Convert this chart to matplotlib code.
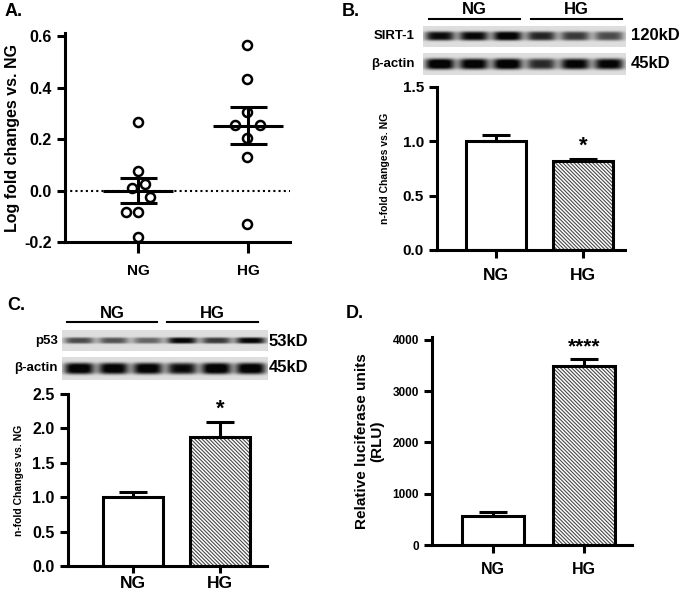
import numpy as np
import matplotlib
matplotlib.use("Agg")
import matplotlib.pyplot as plt

plt.rcParams["font.family"] = ["Liberation Sans", "DejaVu Sans"]
plt.rcParams["font.weight"] = "bold"
plt.rcParams["axes.labelweight"] = "bold"
plt.rcParams["hatch.linewidth"] = 0.8

# ── data ────────────────────────────────────────────────────────────────────
groups = ["NG", "HG"]

# A: log fold change, individual points (value, x-offset)
a_ng_vals = [0.265, 0.075, 0.01, 0.025, -0.025, -0.085, -0.085, -0.18]
a_ng_offs = [0.0, 0.0, -0.06, 0.06, 0.11, -0.11, 0.0, 0.0]
a_hg_vals = [0.565, 0.435, 0.305, 0.255, 0.255, 0.205, 0.13, -0.13]
a_hg_offs = [-0.01, -0.01, -0.01, -0.12, 0.11, -0.01, -0.01, -0.01]

# B: SIRT-1 western blot quantification
b_mean = [1.00, 0.82]
b_sem = [0.06, 0.02]
b_sirt1_bands = [0.80, 0.82, 0.88, 0.70, 0.62, 0.55]
b_actin_bands = [0.92, 0.88, 0.92, 0.68, 0.85, 0.85]

# C: p53 western blot quantification
c_mean = [1.00, 1.87]
c_sem = [0.07, 0.22]
c_p53_bands = [0.55, 0.52, 0.45, 0.82, 0.62, 0.82]
c_actin_bands = [0.90, 0.88, 0.88, 0.80, 0.92, 0.90]

# D: luciferase reporter
d_mean = [570, 3500]
d_sem = [80, 130]

W, H = 685, 593
fig = plt.figure(figsize=(W / 100, H / 100), dpi=100)


def px_axes(x0, y0, x1, y1):
    """axes from pixel box (top-left origin)"""
    return fig.add_axes([x0 / W, 1 - y1 / H, (x1 - x0) / W, (y1 - y0) / H])


def px_text(x, y, s, **kw):
    fig.text(x / W, 1 - y / H, s, **kw)


def px_line(x0, x1, y):
    fig.lines.append(plt.Line2D([x0 / W, x1 / W], [1 - y / H] * 2, color="black",
                                lw=1.5, transform=fig.transFigure))


def style_axes(ax, lw=2.2):
    for s in ("top", "right"):
        ax.spines[s].set_visible(False)
    for s in ("left", "bottom"):
        ax.spines[s].set_linewidth(lw)
    ax.tick_params(width=lw, length=6, direction="out")


def draw_bars(ax, means, sems, width, capsize=10):
    x = np.arange(len(means))
    ax.bar(x[1], means[1], width, color="white", edgecolor="#4a4a4a",
           hatch="\\" * 9, linewidth=0, zorder=2)
    ax.bar(x, means, width, fill=False, edgecolor="black", linewidth=2.2, zorder=3)
    ax.errorbar(x, means, yerr=[[0, 0], sems], fmt="none", ecolor="black",
                elinewidth=2.2, capsize=capsize, capthick=2.2, zorder=1)


def draw_blot(ax, levels, thick):
    nx, ny = 600, 60
    xs = np.linspace(0, len(levels), nx)
    ys = np.linspace(-1, 1, ny)
    img = np.full((ny, nx), 0.87)
    for i, lv in enumerate(levels):
        px = np.exp(-((xs - (i + 0.5)) / 0.44) ** 4)
        py = np.exp(-(ys / thick) ** 4)
        img -= 1.05 * lv * np.outer(py, px)
    img = np.clip(img, 0.02, 1)
    ax.imshow(img, cmap="gray", vmin=0, vmax=1, aspect="auto",
              interpolation="bilinear")
    ax.set_axis_off()


# ── A ───────────────────────────────────────────────────────────────────────
axA = px_axes(65, 33, 290, 242)
style_axes(axA)
axA.axhline(0, color="black", ls=(0, (1, 1.5)), lw=1.5, zorder=0)
for gi, (vals, offs) in enumerate([(a_ng_vals, a_ng_offs), (a_hg_vals, a_hg_offs)]):
    v = np.array(vals)
    axA.plot(gi + np.array(offs), v, "o", ms=6.5, mfc="white", mec="black",
             mew=1.8, zorder=3)
    m = v.mean()
    sem = v.std(ddof=1) / np.sqrt(len(v))
    axA.hlines(m, gi - 0.32, gi + 0.32, color="black", lw=2.2, zorder=4)
    axA.hlines([m - sem, m + sem], gi - 0.17, gi + 0.17, color="black", lw=2.2, zorder=4)
    axA.vlines(gi, m - sem, m + sem, color="black", lw=2.2, zorder=4)
axA.set_xlim(-0.667, 1.38)
axA.set_ylim(-0.2, 0.612)
axA.set_yticks([-0.2, 0.0, 0.2, 0.4, 0.6])
axA.set_yticklabels(["-0.2", "0.0", "0.2", "0.4", "0.6"], fontsize=11.5)
axA.set_xticks([0, 1])
axA.set_xticklabels(groups, fontsize=11)
axA.tick_params(axis="x", length=8, pad=8)
axA.set_ylabel("Log fold changes vs. NG", fontsize=11.5, labelpad=3)

# ── B ───────────────────────────────────────────────────────────────────────
axB = px_axes(437, 87, 625, 250)
style_axes(axB)
draw_bars(axB, b_mean, b_sem, 0.69)
axB.text(1, 0.86, "*", ha="center", va="bottom", fontsize=16)
axB.set_xlim(-0.68, 1.48)
axB.set_ylim(0, 1.5)
axB.set_yticks([0, 0.5, 1.0, 1.5])
axB.set_yticklabels(["0.0", "0.5", "1.0", "1.5"], fontsize=11)
axB.set_xticks([0, 1])
axB.set_xticklabels(groups, fontsize=12.5)
axB.tick_params(axis="x", pad=7)
axB.set_ylabel("n-fold Changes vs. NG", fontsize=7.5, labelpad=9)

draw_blot(px_axes(423, 26, 625, 47), b_sirt1_bands, 0.42)
draw_blot(px_axes(423, 53, 625, 75), b_actin_bands, 0.5)
px_line(429, 520, 19)
px_line(531, 622, 19)
px_text(474, 10, "NG", ha="center", va="center", fontsize=12)
px_text(576, 10, "HG", ha="center", va="center", fontsize=12)
px_text(415, 36, "SIRT-1", ha="right", va="center", fontsize=9.5)
px_text(415, 64, "β-actin", ha="right", va="center", fontsize=9.5)
px_text(631, 36, "120kD", ha="left", va="center", fontsize=12)
px_text(631, 64, "45kD", ha="left", va="center", fontsize=12)

# ── C ───────────────────────────────────────────────────────────────────────
axC = px_axes(68, 394, 267, 566)
style_axes(axC)
draw_bars(axC, c_mean, c_sem, 0.69)
axC.text(1, 2.12, "*", ha="center", va="bottom", fontsize=16)
axC.set_xlim(-0.75, 1.54)
axC.set_ylim(0, 2.5)
axC.set_yticks([0, 0.5, 1.0, 1.5, 2.0, 2.5])
axC.set_yticklabels(["0.0", "0.5", "1.0", "1.5", "2.0", "2.5"], fontsize=11.5)
axC.set_xticks([0, 1])
axC.set_xticklabels(groups, fontsize=12.5)
axC.tick_params(axis="x", length=5, pad=2)
axC.set_ylabel("n-fold Changes vs. NG", fontsize=7.5, labelpad=6)

draw_blot(px_axes(62, 330, 267, 351), c_p53_bands, 0.3)
draw_blot(px_axes(62, 357, 267, 380), c_actin_bands, 0.5)
px_line(67, 157, 322)
px_line(167, 258, 322)
px_text(112, 313, "NG", ha="center", va="center", fontsize=12)
px_text(212, 313, "HG", ha="center", va="center", fontsize=12)
px_text(58, 341, "p53", ha="right", va="center", fontsize=9.5)
px_text(58, 368, "β-actin", ha="right", va="center", fontsize=9.5)
px_text(269, 341, "53kD", ha="left", va="center", fontsize=12)
px_text(269, 368, "45kD", ha="left", va="center", fontsize=12)

# ── D ───────────────────────────────────────────────────────────────────────
narrow = ["Liberation Sans Narrow", "Liberation Sans"]
axD = px_axes(432, 337, 632, 545)
style_axes(axD)
draw_bars(axD, d_mean, d_sem, 0.68)
axD.text(1, 3680, "****", ha="center", va="bottom", fontsize=15)
axD.set_xlim(-0.67, 1.53)
axD.set_ylim(0, 4058)
axD.set_yticks([0, 1000, 2000, 3000, 4000])
axD.set_yticklabels(["0", "1000", "2000", "3000", "4000"], fontsize=8.5, family=narrow)
axD.set_xticks([0, 1])
axD.set_xticklabels(groups, fontsize=11.5, family=narrow)
axD.tick_params(axis="x", pad=6)
axD.set_ylabel("Relative luciferase units\n(RLU)", fontsize=11, labelpad=6,
               linespacing=1.1)

# panel letters
px_text(5, 12, "A.", ha="left", va="center", fontsize=13)
px_text(342, 12, "B.", ha="left", va="center", fontsize=13)
px_text(7, 305, "C.", ha="left", va="center", fontsize=13)
px_text(346, 313, "D.", ha="left", va="center", fontsize=13)

fig.savefig("out.png", dpi=100)
